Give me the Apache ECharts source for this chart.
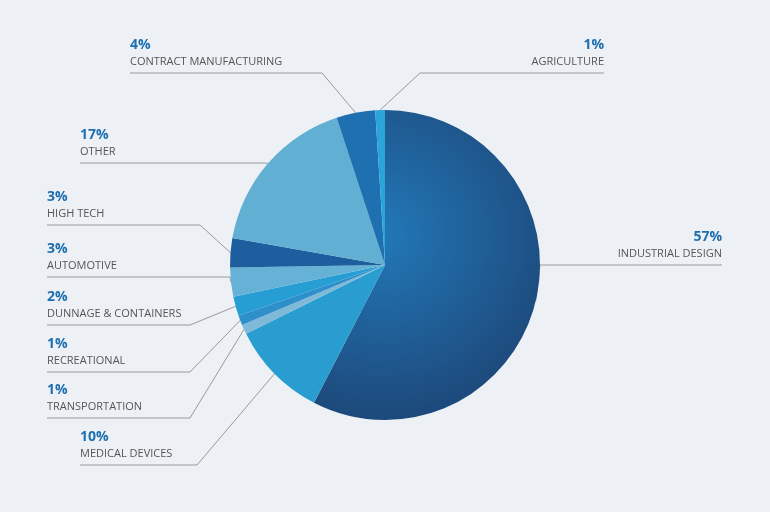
<!DOCTYPE html><html><head><meta charset="utf-8">
<script src="https://cdn.jsdelivr.net/npm/echarts@6/dist/echarts.min.js"></script>
<style>html,body{margin:0;background:#edf1f5}#c{width:770px;height:512px}</style></head><body><div id="c"></div>
<script>
const categories=['INDUSTRIAL DESIGN','MEDICAL DEVICES','TRANSPORTATION','RECREATIONAL','DUNNAGE & CONTAINERS','AUTOMOTIVE','HIGH TECH','OTHER','CONTRACT MANUFACTURING','AGRICULTURE'];
const values=[57,10,1,1,2,3,3,17,4,1];
const colors=['#1f69a6','#2a9dd0','#7fb9d8','#2f8fcb','#279ed3','#66b2d6','#1d5f9e','#62afd4','#1f70b0','#2ba4da'];
// label layout: text x, line y, elbow x, align
const layout=[[722,265,540,'right'],[80,465,197,'left'],[47,418,190,'left'],[47,372,190,'left'],[47,325,190,'left'],[47,277,230,'left'],[47,225,200,'left'],[80,163,265,'left'],[130,73,322,'left'],[604,73,420,'right']];
const chart=echarts.init(document.getElementById('c'));
chart.setOption({backgroundColor:'#edf1f5',animation:false,
series:[{type:'pie',center:[385,265],radius:155,startAngle:90,clockwise:true,
data:categories.map((n,i)=>({name:n,value:values[i],itemStyle:{color:i===0?new echarts.graphic.RadialGradient(0.3,0.4,0.8,[{offset:0,color:'#2278b8'},{offset:1,color:'#1d4a7c'}]):colors[i]}})),
label:{show:true,formatter:p=>'{p|'+p.value+'%}\n{n|'+p.name+'}',rich:{p:{fontFamily:'Open Sans',fontSize:14,fontWeight:'bold',color:'#1e6fb0',lineHeight:18},n:{fontFamily:'Open Sans',fontSize:11,color:'#555',lineHeight:16}}},
labelLine:{show:true,lineStyle:{color:'#999',width:1}},
labelLayout:function(p){const L=layout[p.dataIndex];const s=p.labelLinePoints?p.labelLinePoints[0]:[L[2],L[1]];
return {x:L[0],y:L[1]-3,align:L[3],verticalAlign:'bottom',labelLinePoints:[s,[L[2],L[1]],[L[0],L[1]]]};}
}]});
</script></body></html>
